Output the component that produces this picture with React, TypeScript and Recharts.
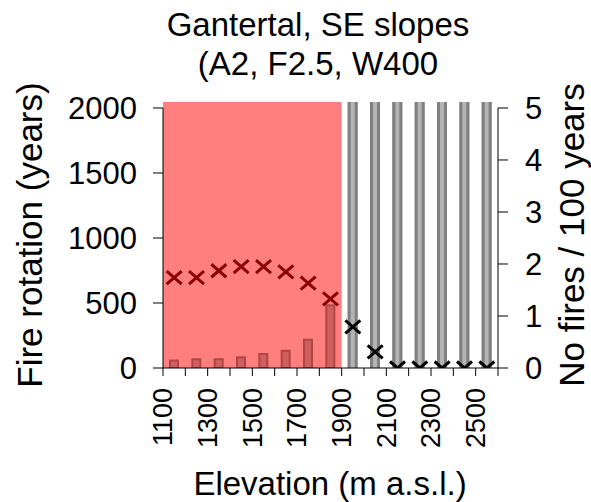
import {
  ComposedChart,
  Bar,
  Scatter,
  XAxis,
  YAxis,
  ReferenceArea,
  ReferenceLine,
} from "recharts";

const FONT = '"Liberation Sans", Arial, Helvetica, sans-serif';

// elevation bin centres (m a.s.l.)
const ELEVATION = [1150, 1250, 1350, 1450, 1550, 1650, 1750, 1850, 1950, 2050, 2150, 2250, 2350, 2450, 2550];
// fire rotation in years, null where it runs off the top of the scale
const FIRE_ROTATION = [65, 75, 75, 90, 115, 140, 225, 490, null, null, null, null, null, null, null];
// number of fires per 100 years
const FIRES_PER_CENTURY = [1.74, 1.74, 1.87, 1.95, 1.95, 1.85, 1.63, 1.33, 0.79, 0.31, 0, 0, 0, 0, 0];

const X_TICKS = [1100, 1200, 1300, 1400, 1500, 1600, 1700, 1800, 1900, 2000, 2100, 2200, 2300, 2400, 2500, 2600];
const X_LABELS = [1100, 1300, 1500, 1700, 1900, 2100, 2300, 2500];
const ROTATION_TICKS = [0, 500, 1000, 1500, 2000];
const FIRES_TICKS = [0, 1, 2, 3, 4, 5];

// elevation band where fire occurs
const FIRE_ZONE = [1100, 1900];

// axes run a bit past their last labelled tick
const ROTATION_TOP = 2046;
const FIRES_TOP = 5.115;

const rows = ELEVATION.map((elev, i) => ({
  elev,
  rotation: FIRE_ROTATION[i] ?? ROTATION_TOP,
  offScale: FIRE_ROTATION[i] == null,
  fires: FIRES_PER_CENTURY[i],
}));

const RotationBar = (props: any) => {
  const { x, y, width, height } = props;
  const offScale = props.payload?.offScale ?? props.offScale;
  if (offScale) {
    return (
      <g>
        <rect x={x} y={y} width={width} height={height} fill="#b4b4b4" />
        <rect x={x} y={y} width={3} height={height} fill="#808080" />
        <rect x={x + width - 3} y={y} width={3} height={height} fill="#808080" />
      </g>
    );
  }
  return (
    <rect
      x={x + 1}
      y={y + 1}
      width={width - 2}
      height={Math.max(height - 1, 0)}
      fill="#d06060"
      stroke="#b04545"
      strokeWidth={2}
    />
  );
};

const Cross = (props: any) => {
  const { cx, cy } = props;
  const elev = props.payload?.elev ?? props.elev;
  const color = elev < FIRE_ZONE[1] ? "#8b0000" : "#000000";
  const rx = 7.5;
  const ry = 6.5;
  return (
    <path
      d={`M${cx - rx},${cy - ry}L${cx + rx},${cy + ry}M${cx - rx},${cy + ry}L${cx + rx},${cy - ry}`}
      stroke={color}
      strokeWidth={3}
      fill="none"
    />
  );
};

const ElevationTick = ({ x, y, payload }: any) => {
  if (!X_LABELS.includes(payload.value)) return null;
  return (
    <text
      x={x}
      y={y}
      transform={`rotate(-90, ${x}, ${y})`}
      textAnchor="end"
      dy="0.35em"
      fontSize={27}
      fontFamily={FONT}
      fill="#000"
    >
      {payload.value}
    </text>
  );
};

export default function App() {
  return (
    <div style={{ position: "absolute", left: 0, top: 0, width: 591, height: 502, background: "#fff" }}>
      <ComposedChart
        width={591}
        height={502}
        data={rows}
        margin={{ top: 102, right: 0, bottom: 0, left: 0 }}
      >
        <XAxis
          dataKey="elev"
          type="number"
          domain={[1100, 2600]}
          ticks={X_TICKS}
          interval={0}
          height={134}
          tickSize={8}
          tickMargin={12}
          tick={<ElevationTick />}
          axisLine={{ stroke: "#000" }}
          tickLine={{ stroke: "#000" }}
        />
        <YAxis
          yAxisId="left"
          domain={[0, ROTATION_TOP]}
          ticks={ROTATION_TICKS}
          allowDataOverflow
          width={163}
          tickSize={10}
          tickMargin={16}
          axisLine={false}
          tickLine={{ stroke: "#000" }}
          tick={{ fontSize: 31, fontFamily: FONT, fill: "#000" }}
        />
        <YAxis
          yAxisId="right"
          orientation="right"
          domain={[0, FIRES_TOP]}
          ticks={FIRES_TICKS}
          allowDataOverflow
          width={93}
          tickSize={10}
          tickMargin={17}
          axisLine={false}
          tickLine={{ stroke: "#000" }}
          tick={{ fontSize: 31, fontFamily: FONT, fill: "#000" }}
        />
        <ReferenceArea
          yAxisId="left"
          x1={FIRE_ZONE[0]}
          x2={FIRE_ZONE[1]}
          y1={0}
          y2={ROTATION_TOP}
          fill="#ff7f7f"
          fillOpacity={1}
          stroke="none"
        />
        <Bar
          yAxisId="left"
          dataKey="rotation"
          barSize={10}
          shape={<RotationBar />}
          isAnimationActive={false}
        />
        <ReferenceLine
          yAxisId="left"
          segment={[{ x: 1100, y: 0 }, { x: 1100, y: 2000 }]}
          stroke="#000"
        />
        <ReferenceLine
          yAxisId="right"
          segment={[{ x: 2600, y: 0 }, { x: 2600, y: 5 }]}
          stroke="#000"
        />
        <Scatter
          yAxisId="right"
          dataKey="fires"
          shape={<Cross />}
          isAnimationActive={false}
        />
      </ComposedChart>
      <svg
        width={591}
        height={502}
        style={{ position: "absolute", left: 0, top: 0, pointerEvents: "none" }}
        fontFamily={FONT}
        fill="#000"
      >
        <text x={318} y={36} textAnchor="middle" fontSize={33}>
          Gantertal, SE slopes
        </text>
        <text x={318} y={75} textAnchor="middle" fontSize={33}>
          (A2, F2.5, W400
        </text>
        <text x={42} y={235} textAnchor="middle" fontSize={35} transform="rotate(-90, 42, 235)">
          Fire rotation (years)
        </text>
        <text x={584} y={235} textAnchor="middle" fontSize={35} transform="rotate(-90, 584, 235)">
          No fires / 100 years
        </text>
        <text x={330} y={495} textAnchor="middle" fontSize={33}>
          Elevation (m a.s.l.)
        </text>
      </svg>
    </div>
  );
}
